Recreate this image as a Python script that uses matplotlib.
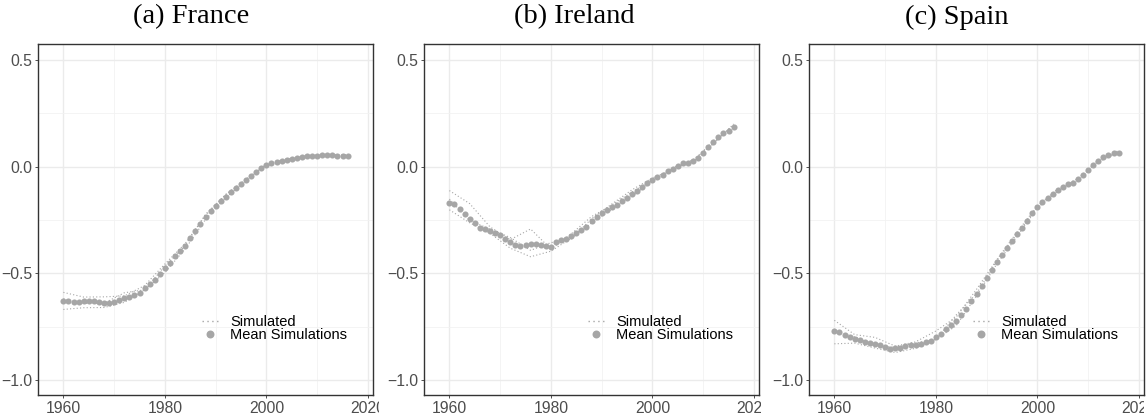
import matplotlib
matplotlib.use("Agg")
import matplotlib.pyplot as plt
from matplotlib.ticker import FuncFormatter
from matplotlib.transforms import Bbox, TransformedBbox

plt.rcParams['font.family'] = ['Liberation Sans', 'DejaVu Sans']

years = list(range(1960, 2017))
sim_years = list(range(1960, 2017, 4))

titles = ["(a) France", "(b) Ireland", "(c) Spain"]

france = [-0.629, -0.630, -0.634, -0.635, -0.631, -0.630, -0.631, -0.635, -0.640, -0.640,
          -0.634, -0.623, -0.616, -0.610, -0.602, -0.590, -0.567, -0.550, -0.530, -0.505,
          -0.476, -0.450, -0.420, -0.394, -0.370, -0.333, -0.300, -0.270, -0.238, -0.210,
          -0.185, -0.163, -0.140, -0.120, -0.100, -0.080, -0.063, -0.044, -0.027, -0.008,
          0.006, 0.016, 0.022, 0.028, 0.031, 0.036, 0.040, 0.045, 0.050, 0.052,
          0.052, 0.055, 0.053, 0.053, 0.052, 0.052, 0.052]

ireland = [-0.172, -0.177, -0.200, -0.220, -0.243, -0.266, -0.285, -0.294, -0.302, -0.310,
           -0.318, -0.340, -0.352, -0.365, -0.370, -0.368, -0.362, -0.362, -0.366, -0.370,
           -0.376, -0.352, -0.344, -0.341, -0.325, -0.313, -0.297, -0.282, -0.254, -0.238,
           -0.219, -0.203, -0.190, -0.178, -0.161, -0.147, -0.128, -0.113, -0.094, -0.078,
           -0.063, -0.050, -0.038, -0.020, -0.009, 0.003, 0.016, 0.019, 0.028, 0.041,
           0.063, 0.094, 0.117, 0.141, 0.156, 0.169, 0.185]

spain = [-0.770, -0.776, -0.787, -0.798, -0.807, -0.814, -0.820, -0.825, -0.830, -0.837,
         -0.846, -0.855, -0.851, -0.848, -0.842, -0.837, -0.836, -0.830, -0.823, -0.815,
         -0.800, -0.782, -0.762, -0.743, -0.725, -0.697, -0.665, -0.629, -0.595, -0.560,
         -0.520, -0.482, -0.446, -0.412, -0.379, -0.347, -0.316, -0.286, -0.255, -0.219,
         -0.188, -0.167, -0.147, -0.127, -0.110, -0.095, -0.081, -0.075, -0.060, -0.038,
         -0.016, 0.008, 0.028, 0.044, 0.055, 0.066, 0.066]

# offsets of a few simulated paths from the mean, every 4 years
france_sims = [
    [0.04, 0.02, 0.03, 0.01, 0.01, 0.02, 0.01, 0.01, 0.01, 0.005, 0.005, 0.005, 0.0, 0.005, 0.0],
    [-0.04, -0.03, -0.02, -0.02, -0.01, -0.02, -0.015, -0.01, -0.005, -0.005, 0.0, -0.005, -0.005, 0.0, -0.01],
    [0.01, -0.01, 0.0, 0.025, -0.01, 0.01, 0.0, 0.015, 0.01, 0.0, 0.003, 0.0, 0.004, -0.003, 0.005],
]
ireland_sims = [
    [0.06, 0.07, 0.02, 0.01, 0.07, -0.01, 0.01, 0.02, 0.01, 0.01, 0.0, 0.005, 0.0, -0.005, 0.01],
    [-0.03, -0.02, -0.01, -0.03, -0.06, -0.02, -0.01, -0.01, -0.01, -0.01, -0.005, 0.0, -0.005, 0.005, -0.01],
    [0.02, -0.01, 0.01, 0.02, -0.03, 0.02, -0.015, 0.01, 0.015, 0.02, 0.01, -0.005, 0.005, -0.01, 0.015],
]
spain_sims = [
    [0.05, 0.02, 0.03, 0.01, 0.015, 0.03, 0.02, 0.02, 0.01, 0.01, 0.005, 0.005, 0.005, 0.0, 0.01],
    [-0.06, -0.02, -0.02, -0.02, -0.015, -0.01, -0.02, -0.01, -0.01, -0.01, -0.005, -0.005, 0.0, -0.005, 0.0],
    [0.0, 0.01, -0.01, 0.005, 0.01, -0.01, 0.03, 0.0, 0.005, 0.0, 0.0, 0.003, -0.003, 0.005, 0.005],
]

means = [france, ireland, spain]
sims = [france_sims, ireland_sims, spain_sims]

gray = "#A6A6A6"
W, H = 1148, 415
fig = plt.figure(figsize=(W / 100, H / 100), dpi=100)

lefts = [38, 424, 809]
for i in range(3):
    ax = fig.add_axes([lefts[i] / W, (H - 395) / H, 335 / W, 351 / H])
    m = means[i]
    for off in sims[i]:
        yy = [m[years.index(y)] + o for y, o in zip(sim_years, off)]
        ax.plot(sim_years, yy, ls=(0, (1, 2)), lw=0.8, color=gray, zorder=2)
    ax.plot([], [], ls=(0, (1, 2.5)), lw=1.0, color=gray, label="Simulated")
    ax.plot(years, m, ls="none", marker="o", ms=4.4, color=gray, mew=0,
            zorder=3, label="Mean Simulations")

    ax.set_xlim(1955, 2021)
    ax.set_ylim(-1.07, 0.575)
    ax.set_xticks([1960, 1980, 2000, 2020])
    ax.set_xticks([1970, 1990, 2010], minor=True)
    ax.set_yticks([-1.0, -0.5, 0.0, 0.5])
    ax.set_yticks([-0.75, -0.25, 0.25], minor=True)
    ax.grid(which="major", color="#EBEBEB", lw=1.0, zorder=0)
    ax.grid(which="minor", color="#F2F2F2", lw=0.6, zorder=0)
    ax.set_axisbelow(True)
    for s in ax.spines.values():
        s.set_color("#333333")
        s.set_linewidth(1.0)
    ax.tick_params(which="major", length=2.5, width=0.6, color="#333333",
                   labelsize=11.3, labelcolor="#4D4D4D", pad=1.5)
    ax.tick_params(which="minor", length=0)
    ax.yaxis.set_major_formatter(FuncFormatter(lambda v, p: f"{v:.1f}".replace("-", "\u2212")))

    ax.legend(loc="center left", bbox_to_anchor=(0.49, 0.19), frameon=False,
              fontsize=10.5, labelspacing=-0.05, handlelength=1.1,
              handletextpad=0.8, borderpad=0, borderaxespad=0, markerscale=1.3)

    fig.text((i + 0.5) / 3, 1 - 17 / H, titles[i], ha="center", va="center",
             fontsize=20.5, family="Liberation Serif")

    clip = TransformedBbox(Bbox.from_extents(i / 3, 0, (i + 1) / 3 - 4 / W, 1), fig.transFigure)
    for lab in ax.get_xticklabels():
        lab.set_clip_on(True)
        lab.set_clip_box(clip)

fig.savefig("out.png", dpi=100)
